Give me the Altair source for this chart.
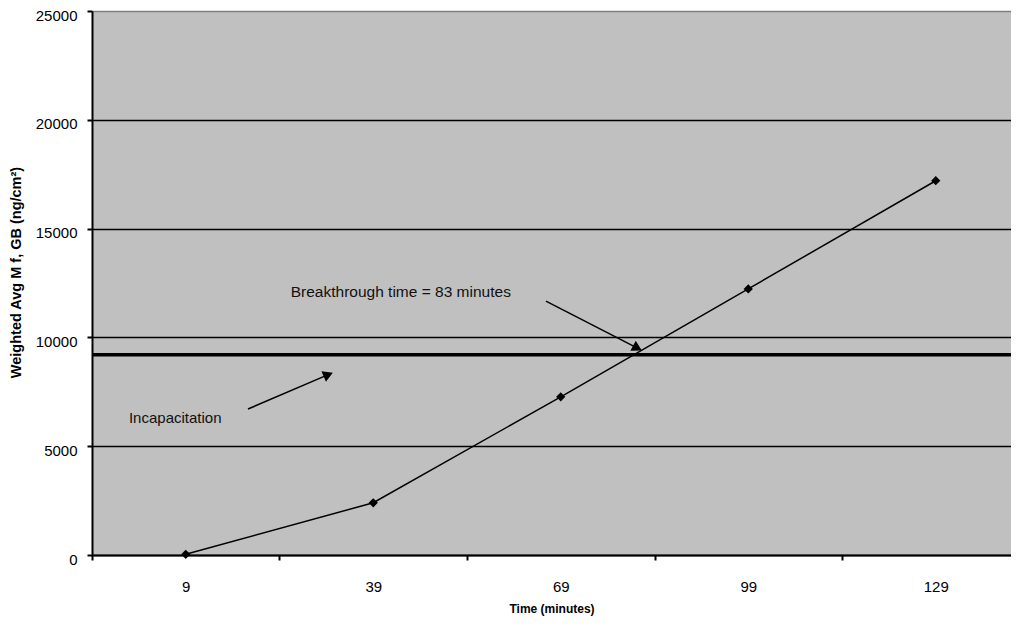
import altair as alt
import pandas as pd

# ---- data ----
times = ["9", "39", "69", "99", "129"]
conc = [30, 2400, 7270, 12230, 17200]
threshold = [9200]
y_ticks = [0, 5000, 10000, 15000, 20000, 25000]

# annotations (x = category index, y = ng/cm2)
arrow_x = [1.921, 0.332]
arrow_y = [11670, 6710]
arrow_x2 = [2.409, 0.760]
arrow_y2 = [9510, 8290]
note_text = ["Breakthrough time = 83 minutes", "Incapacitation"]
note_x = [0.560, -0.303]
note_y = [12086, 6296]
note_size = [15.5, 15]

idx = list(range(len(times)))
df = pd.DataFrame({"i": idx, "t": times, "v": conc})
thr = pd.DataFrame({"v": threshold})
arrows = pd.DataFrame({"x": arrow_x, "y": arrow_y, "x2": arrow_x2, "y2": arrow_y2})
notes = pd.DataFrame({"x": note_x, "y": note_y, "text": note_text, "s": note_size})

W, H = 919, 544
x_end = -0.5 + W / 187.5
label_arr = "[" + ",".join("'%s'" % t for t in times) + "]"
x_vals = [k / 2 for k in range(-1, 2 * len(times) - 1)]

xscale = alt.Scale(domain=[-0.5, x_end], nice=False, zero=False)
yscale = alt.Scale(domain=[0, 25000], nice=False)

x_axis = alt.Axis(
    values=x_vals,
    labelExpr="datum.value % 1 === 0 ? " + label_arr + "[datum.value] : ''",
    tickOpacity={"condition": {"test": "datum.value % 1 === 0", "value": 0}, "value": 1},
    grid=False,
    domainColor="black", domainWidth=2,
    tickColor="black", tickWidth=2, tickSize=5,
    labelPadding=19, labelFontSize=15, labelColor="black",
    labelFlush=False, labelOverlap=False,
    title="Time (minutes)", titleFontSize=12, titleFontWeight="bold",
    titleColor="black", titlePadding=9,
)
y_axis = alt.Axis(
    values=y_ticks,
    format="d",
    grid=True,
    gridColor={"condition": {"test": "datum.value === 25000", "value": "#808080"}, "value": "black"},
    gridWidth=1.5,
    domainColor="black", domainWidth=2,
    tickColor="black", tickWidth=2, tickSize=5,
    labelPadding=10, labelFontSize=15, labelColor="black", labelOffset=4,
    labelFlush=False,
    title="Weighted Avg M f, GB (ng/cm²)", titleFontSize=14.5, titleFontWeight="bold",
    titleColor="black", titlePadding=12, titleY=261,
)

base_x = alt.X("i:Q", scale=xscale, axis=x_axis)

line = alt.Chart(df).mark_line(color="black", strokeWidth=1.5).encode(
    x=base_x, y=alt.Y("v:Q", scale=yscale, axis=y_axis)
)
pts = alt.Chart(df).mark_point(shape="diamond", filled=True, color="black", size=85, opacity=1).encode(
    x="i:Q", y="v:Q"
)
rule = alt.Chart(thr).mark_rule(color="black", strokeWidth=3.5).encode(y="v:Q")

arrow_lines = alt.Chart(arrows).mark_rule(color="black", strokeWidth=1.5).encode(
    x="x:Q", y="y:Q", x2="x2:Q", y2="y2:Q"
)
head1 = alt.Chart(arrows.iloc[[0]]).mark_point(
    shape="triangle-up", filled=True, color="black", size=130, opacity=1, angle=118
).encode(x="x2:Q", y="y2:Q")
head2 = alt.Chart(arrows.iloc[[1]]).mark_point(
    shape="triangle-up", filled=True, color="black", size=130, opacity=1, angle=67
).encode(x="x2:Q", y="y2:Q")

texts = alt.Chart(notes).mark_text(
    align="left", baseline="middle", color="#111111", font="Liberation Sans"
).encode(x="x:Q", y="y:Q", text="text:N", size=alt.Size("s:Q", scale=None, legend=None))

chart = alt.layer(rule, line, pts, arrow_lines, head1, head2, texts).properties(
    width=W, height=H,
    autosize=alt.AutoSizeParams(type="none"),
    padding={"left": 84, "top": 3, "right": 0, "bottom": 62},
    background="white",
).configure(font="Liberation Sans").configure_view(
    fill="#c0c0c0", stroke="#808080", strokeWidth=1
)

chart.save("out.html", embed_options={"renderer": "svg", "actions": False})
